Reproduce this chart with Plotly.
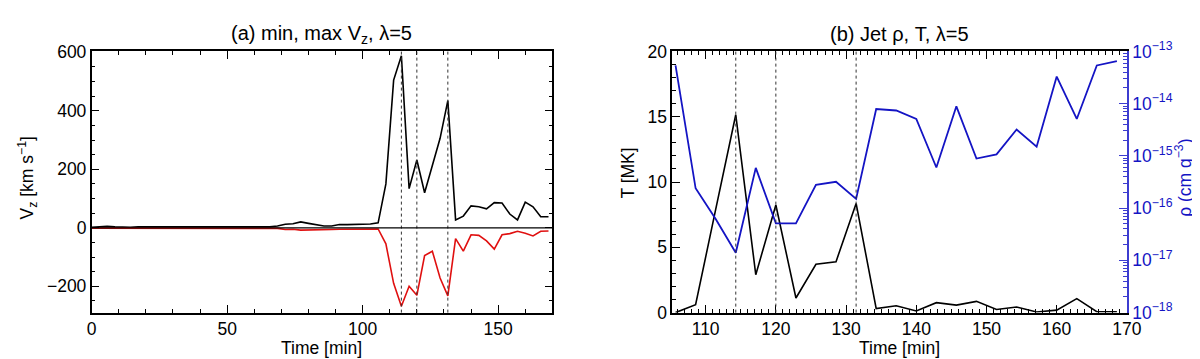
import plotly.graph_objects as go

# time axis of the simulation snapshots [min]
time_min = [0.0, 2.86, 5.71, 8.57, 11.43, 14.29, 17.14, 20.0, 22.86, 25.71,
            28.57, 31.43, 34.29, 37.14, 40.0, 42.86, 45.71, 48.57, 51.43, 54.29,
            57.14, 60.0, 62.86, 65.71, 68.57, 71.43, 74.29, 77.14, 80.0, 82.86,
            85.71, 88.57, 91.43, 94.29, 97.14, 100.0, 102.86, 105.71, 108.57, 111.43,
            114.29, 117.14, 120.0, 122.86, 125.71, 128.57, 131.43, 134.29, 137.14, 140.0,
            142.86, 145.71, 148.57, 151.43, 154.29, 157.14, 160.0, 162.86, 165.71, 168.57]

# panel (a): max and min Vz [km/s]
vz_max = [2, 3, 5, 3, 2, 2, 3, 3, 2, 2,
          2, 3, 3, 2, 2, 2, 2, 2, 2, 3,
          3, 3, 3, 3, 6, 12, 14, 20, 15, 10,
          6, 6, 11, 11, 12, 13, 13, 17, 150, 505,
          588, 134, 232, 120, 215, 306, 435, 27, 40, 75,
          72, 65, 86, 85, 47, 27, 88, 72, 38, 38]
vz_min = [-1, -1, -1, -1, -1, -1, -1, -1, -1, -1,
          -1, -1, -1, -1, -1, -1, -1, -1, -1, -1,
          -1, -1, -1, -1, -2, -6, -5, -8, -8, -7,
          -7, -6, -5, -5, -5, -4, -4, -4, -55, -190,
          -268, -200, -231, -95, -80, -172, -233, -37, -80, -24,
          -26, -45, -73, -24, -20, -12, -19, -28, -12, -11]

# panel (b): jet temperature and density
time_jet = [105.71, 108.57, 111.43, 114.29, 117.14, 120.0, 122.86, 125.71, 128.57, 131.43,
            134.29, 137.14, 140.0, 142.86, 145.71, 148.57, 151.43, 154.29, 157.14, 160.0,
            162.86, 165.71, 168.57]
temp_mk = [0.0, 0.6, 7.9, 15.15, 2.9, 8.24, 1.12, 3.7, 3.9, 8.36,
           0.31, 0.52, 0.12, 0.76, 0.57, 0.86, 0.24, 0.43, 0.05, 0.19,
           1.07, 0.07, 0.07]
rho = [5.4e-14, 2.4e-16, 6.2e-17, 1.4e-17, 5.9e-16, 5.1e-17, 5.1e-17, 2.8e-16, 3.2e-16, 1.5e-16,
       7.9e-15, 7.4e-15, 5.1e-15, 6.0e-16, 8.9e-15, 8.9e-16, 1.07e-15, 3.2e-15, 1.5e-15, 3.3e-14,
       5.1e-15, 5.4e-14, 6.5e-14]

event_times = [114.29, 120.0, 131.43]

rho_ticks = [1e-18, 1e-17, 1e-16, 1e-15, 1e-14, 1e-13]
rho_labels = ["10<sup>−18</sup>", "10<sup>−17</sup>", "10<sup>−16</sup>",
              "10<sup>−15</sup>", "10<sup>−14</sup>", "10<sup>−13</sup>"]

W, H = 1200, 359
FONT = "Liberation Sans, Arial, Helvetica, sans-serif"
BLUE = "#1414c4"
AXBLUE = "#3c3cd0"
RED = "#e01010"
TS = 17.5


def px_x(p):
    return p / W


def px_y(p):
    return (H - p) / H


ydom = [px_y(311.7), px_y(33.5)]

fig = go.Figure()

fig.add_trace(go.Scatter(x=time_min, y=vz_max, mode="lines", line=dict(color="black", width=1.6),
                         xaxis="x", yaxis="y", showlegend=False))
fig.add_trace(go.Scatter(x=time_min, y=vz_min, mode="lines", line=dict(color=RED, width=1.6),
                         xaxis="x", yaxis="y", showlegend=False))
fig.add_trace(go.Scatter(x=time_jet, y=temp_mk, mode="lines", line=dict(color="black", width=1.6),
                         xaxis="x2", yaxis="y2", showlegend=False))
fig.add_trace(go.Scatter(x=time_jet, y=rho, mode="lines", line=dict(color=BLUE, width=1.8),
                         xaxis="x2", yaxis="y3", showlegend=False))

common = dict(showgrid=False, zeroline=False, ticks="inside", ticklen=8, tickwidth=1.3,
              linecolor="black", linewidth=1.6, tickcolor="black", showline=True,
              tickfont=dict(family=FONT, size=TS, color="black"))

# vertical dotted markers in both panels
shapes = []
for t in event_times:
    for xr, yr in (("x", "y domain"), ("x2", "y2 domain")):
        shapes.append(dict(type="line", xref=xr, yref=yr, x0=t, x1=t, y0=0, y1=1,
                           line=dict(color="#333333", width=1, dash="dot")))
shapes.append(dict(type="line", xref="x domain", yref="y", x0=0, x1=1, y0=0, y1=0,
                   line=dict(color="black", width=1.2)))

rho_minor = [m * 10.0 ** e for e in range(-18, -13) for m in range(2, 10)]

fig.update_layout(
    width=W, height=H,
    margin=dict(l=0, r=0, t=0, b=0),
    paper_bgcolor="white", plot_bgcolor="white",
    font=dict(family=FONT, size=TS, color="black"),
    xaxis=dict(domain=[px_x(80), px_x(548.5)], range=[0, 170], dtick=50, tick0=0,
               mirror="ticks", anchor="y",
               minor=dict(dtick=10, ticks="inside", ticklen=4, tickcolor="black"), **common),
    yaxis=dict(domain=ydom, range=[-290, 603], dtick=200, tick0=0, anchor="x",
               mirror="ticks",
               minor=dict(dtick=50, ticks="inside", ticklen=4, tickcolor="black"), **common),
    xaxis2=dict(domain=[px_x(670.4), px_x(1132.8)], range=[105.24, 170], dtick=10, tick0=0,
                mirror="ticks", anchor="y2",
                minor=dict(dtick=1, ticks="inside", ticklen=4, tickcolor="black"), **common),
    yaxis2=dict(domain=ydom, range=[0, 20], dtick=5, tick0=0, anchor="x2",
                minor=dict(dtick=1, ticks="inside", ticklen=4, tickcolor="black"), **common),
    yaxis3=dict(type="log", range=[-18, -13], overlaying="y2", side="right", anchor="x2",
                tickmode="array", tickvals=rho_ticks, ticktext=rho_labels,
                showgrid=False, zeroline=False,
                showline=True, linecolor=AXBLUE, linewidth=1.6, ticks="inside", ticklen=8,
                tickcolor=AXBLUE, tickwidth=1.3,
                tickfont=dict(family=FONT, size=TS, color=BLUE),
                minor=dict(tickmode="array", tickvals=rho_minor, ticks="inside", ticklen=4,
                           tickcolor=AXBLUE)),
    shapes=shapes,
    annotations=[
        dict(text="(a) min, max V<sub>z</sub>, λ=5", x=px_x(314), y=px_y(15), xref="paper",
             yref="paper", showarrow=False, xanchor="center", yanchor="middle",
             font=dict(family=FONT, size=20)),
        dict(text="(b) Jet ρ, T, λ=5", x=px_x(901.6), y=px_y(15), xref="paper",
             yref="paper", showarrow=False, xanchor="center", yanchor="middle",
             font=dict(family=FONT, size=20)),
        dict(text="Time [min]", x=px_x(314), y=px_y(349.5), xref="paper", yref="paper",
             showarrow=False, xanchor="center", yanchor="middle", font=dict(family=FONT, size=TS)),
        dict(text="Time [min]", x=px_x(901.6), y=px_y(349.5), xref="paper", yref="paper",
             showarrow=False, xanchor="center", yanchor="middle", font=dict(family=FONT, size=TS)),
        dict(text="V<sub>z</sub> [km s<sup>−1</sup>]", x=px_x(15), y=px_y(168), xref="paper",
             yref="paper", showarrow=False, textangle=-90, xanchor="center", yanchor="middle",
             font=dict(family=FONT, size=TS)),
        dict(text="T [MK]", x=px_x(625), y=px_y(163), xref="paper", yref="paper",
             showarrow=False, textangle=-90, xanchor="center", yanchor="middle",
             font=dict(family=FONT, size=TS)),
        dict(text="ρ (cm g<sup>−3</sup>)", x=px_x(1190), y=px_y(168), xref="paper",
             yref="paper", showarrow=False, textangle=-90, xanchor="center", yanchor="middle",
             font=dict(family=FONT, size=TS, color=BLUE)),
    ],
)

fig.write_html("out.html")
